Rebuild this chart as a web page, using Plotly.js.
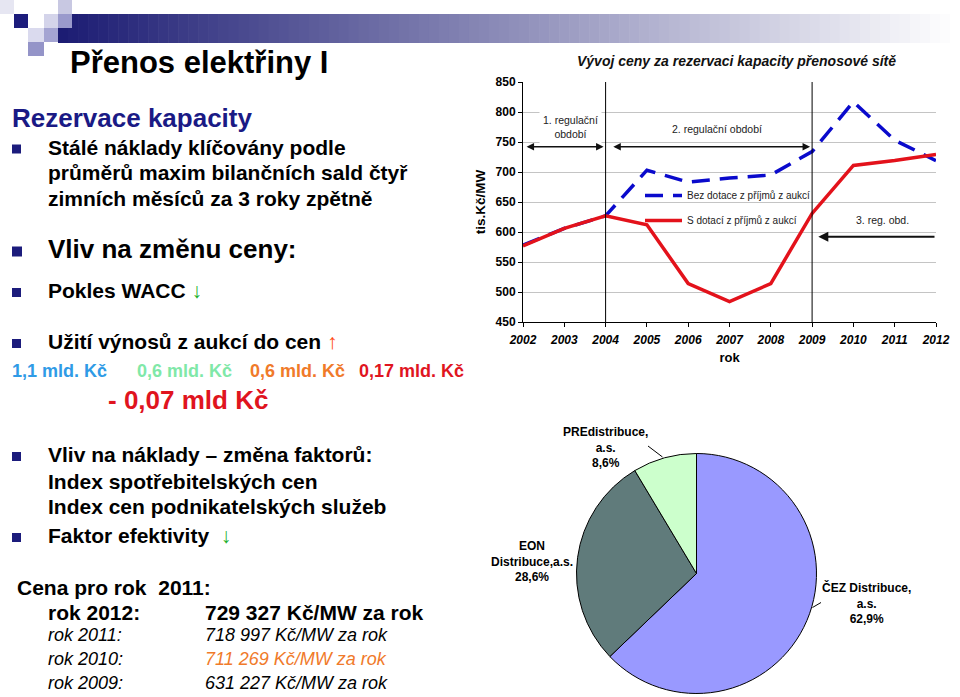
<!DOCTYPE html>
<html>
<head>
<meta charset="utf-8">
<script src="https://cdn.plot.ly/plotly-3.0.1.min.js"></script>
<style>
html,body{margin:0;padding:0;background:#fff;}
#chart{width:960px;height:697px;}
</style>
</head>
<body>
<div id="chart"></div>
<script>
// ---------- DATA ----------
const years = [2002, 2003, 2004, 2005, 2006, 2007, 2008, 2009, 2010, 2011, 2012];
const bezDotace = [578, 606, 627, 703, 683, 690, 695, 734, 817, 753, 719];
const sDotaci = [577, 606, 627, 612, 514, 484, 514, 631, 711, 719, 729];
const seriesNames = ['Bez dotace z příjmů z aukcí', 'S dotací z příjmů z aukcí'];
const yTicks = [450, 500, 550, 600, 650, 700, 750, 800, 850];

const pieNames = ['ČEZ Distribuce,<br>a.s.', 'EON<br>Distribuce,a.s.', 'PREdistribuce,<br>a.s.'];
const pieShares = [62.9, 28.6, 8.6];

// ---------- helpers ----------
const W = 960, H = 697;
const px = x => x / W;
const py = y => 1 - y / H;
const FONT = 'Liberation Sans, Arial, sans-serif';

const shapes = [];
const annotations = [];

function rectPx(x0, y0, x1, y1, color, layer) {
  shapes.push({type: 'rect', xref: 'paper', yref: 'paper', x0: px(x0), x1: px(x1), y0: py(y1), y1: py(y0),
    fillcolor: color, line: {width: 0}, layer: layer || 'below'});
}
function txt(x, y, html, size, color, anchor) {
  annotations.push({xref: 'paper', yref: 'paper', x: px(x), y: py(y), text: html, showarrow: false,
    xanchor: anchor || 'left', yanchor: 'middle', align: anchor === 'center' ? 'center' : 'left',
    font: {family: FONT, size: size, color: color || '#000'}});
}

// ---------- header band (gradient) ----------
const bandX0 = 58, bandX1 = 960, steps = 90;
const c0 = [28, 28, 115], c1 = [255, 255, 255];
for (let i = 0; i < steps; i++) {
  const t = i / (steps - 1);
  const c = c0.map((v, k) => Math.round(v + (c1[k] - v) * t));
  const xa = bandX0 + (bandX1 - bandX0) * i / steps;
  const xb = bandX0 + (bandX1 - bandX0) * (i + 1) / steps + 0.6;
  rectPx(xa, 14, xb, 43, `rgb(${c[0]},${c[1]},${c[2]})`);
}
// decorative squares
rectPx(0, 0, 14, 14, '#e6e6f2');
rectPx(14, 14, 28, 28, '#1c1c7c');
rectPx(58, 0, 72, 14, '#c8c8e2');
rectPx(44, 14, 58, 28, '#d4d4ea');
rectPx(58, 14, 72, 28, '#9a9acc');
rectPx(28, 28, 44, 42, '#dadaee');
rectPx(44, 28, 58, 42, '#a4a4d2');
rectPx(28, 42, 44, 56, '#9494c8');

// ---------- left text ----------
const NAVY = '#1c1c7c';
function bullet(yc, s) {
  s = s || 9;
  rectPx(12, yc - s / 2, 12 + s, yc + s / 2, NAVY, 'above');
}
txt(68, 63, '<b>Přenos elektřiny I</b>', 31);
txt(10, 117.5, '<b>Rezervace kapacity</b>', 26, '#1a1a85');
bullet(149);
txt(46, 147, '<b>Stálé náklady klíčovány podle</b>', 21);
txt(46, 172.5, '<b>průměrů maxim bilančních sald čtyř</b>', 21);
txt(46, 198.5, '<b>zimních měsíců za 3 roky zpětně</b>', 21);
bullet(251.5, 10);
txt(46, 249, '<b>Vliv na změnu ceny:</b>', 26);
bullet(292.5);
txt(46, 290.5, '<b>Pokles WACC </b><span style="color:#22b02a">↓</span>', 21);
bullet(343.5);
txt(46, 341.5, '<b>Užití výnosů z aukcí do cen </b><span style="color:#ff4a10">↑</span>', 21);
txt(10, 371, '<b>1,1 mld. Kč</b>', 18, '#2f9be6');
txt(135, 371, '<b>0,6 mld. Kč</b>', 18, '#80e8a8');
txt(248, 371, '<b>0,6 mld. Kč</b>', 18, '#f07a2a');
txt(356.5, 371, '<b>0,17 mld. Kč</b>', 18, '#e0151f');
txt(106, 400, '<b>- 0,07 mld Kč</b>', 26, '#e0141e');
bullet(456.5);
txt(46, 454.5, '<b>Vliv na náklady – změna faktorů:</b>', 21);
txt(46, 481, '<b>Index spotřebitelských cen</b>', 21);
txt(46, 506.5, '<b>Index cen podnikatelských služeb</b>', 21);
bullet(537.5);
txt(46, 535, '<b>Faktor efektivity&nbsp;&nbsp;</b><span style="color:#22b02a">↓</span>', 21);
txt(15, 587, '<b>Cena pro rok&nbsp;&nbsp;2011:</b>', 21);
txt(46, 612, '<b>rok 2012:</b>', 21);
txt(203, 612, '<b>729 327 Kč/MW za rok</b>', 21);
txt(46, 634.5, '<i>rok 2011:</i>', 18);
txt(203, 634.5, '<i>718 997 Kč/MW za rok</i>', 18);
txt(46, 658.5, '<i>rok 2010:</i>', 18);
txt(203, 658.5, '<i>711 269 Kč/MW za rok</i>', 18, '#f07a2a');
txt(46, 683, '<i>rok 2009:</i>', 18);
txt(203, 683, '<i>631 227 Kč/MW za rok</i>', 18);

// ---------- line chart decorations ----------
txt(736.5, 61, '<b><i>Vývoj ceny za rezervaci kapacity přenosové sítě</i></b>', 14, '#111', 'center');

// white box behind the legend (hides gridlines, stays under the lines)
rectPx(637, 183, 813, 232, '#fff', 'between');

[2004, 2009].forEach(xv => shapes.push({type: 'line', xref: 'x', yref: 'y', x0: xv, x1: xv, y0: 450, y1: 850,
  line: {color: '#000', width: 1}, layer: 'above'}));

function chartText(x, y, html, opts) {
  annotations.push(Object.assign({xref: 'x', yref: 'y', x: x, y: y, text: html, showarrow: false,
    font: {family: FONT, size: 10.5, color: '#222'}}, opts || {}));
}
chartText(2003.15, 775, '1. regulační<br>období', {bgcolor: '#fff', borderpad: 3});
chartText(2006.69, 772.3, '2. regulační období');
chartText(2010.7, 619.5, '3. reg. obd.');

function arrow(xHead, xTail, y, side, w) {
  annotations.push({xref: 'x', yref: 'y', axref: 'x', ayref: 'y', x: xHead, y: y, ax: xTail, ay: y, text: '',
    showarrow: true, arrowhead: 2, arrowsize: 1, arrowwidth: w, arrowcolor: '#111', arrowside: side,
    standoff: 0, startstandoff: 0});
}
arrow(2003.95, 2002.05, 742, 'end+start', 1.5);
arrow(2008.95, 2004.15, 742, 'end+start', 1.5);
arrow(2009.15, 2012, 592, 'end', 2);

// ---------- pie labels ----------
const pieLabelPos = [[866.5, 603], [531.5, 561.5], [605, 447]];
pieNames.forEach((n, i) => {
  const pct = pieShares[i].toFixed(1).replace('.', ',') + '%';
  annotations.push({xref: 'paper', yref: 'paper', x: px(pieLabelPos[i][0]), y: py(pieLabelPos[i][1]),
    text: '<b>' + n + '<br>' + pct + '</b>', showarrow: false, xanchor: 'center', yanchor: 'middle',
    align: 'center', font: {family: FONT, size: 12, color: '#000'}});
});
shapes.push({type: 'line', xref: 'paper', yref: 'paper', x0: px(648), y0: py(446), x1: px(662.5), y1: py(457),
  line: {color: '#000', width: 1}});
shapes.push({type: 'line', xref: 'paper', yref: 'paper', x0: px(812.5), y0: py(607.5), x1: px(821), y1: py(602.5),
  line: {color: '#000', width: 1}});

// ---------- traces ----------
const traces = [
  {type: 'scatter', mode: 'lines', x: years, y: bezDotace, name: seriesNames[0], legendgroup: 'a',
    line: {color: '#0a0acc', width: 3.5, dash: '18px,10px'}, hoverinfo: 'x+y'},
  {type: 'scatter', mode: 'lines', x: years, y: sDotaci, name: seriesNames[1], legendgroup: 'b',
    line: {color: '#e3121b', width: 3.5}, hoverinfo: 'x+y'},
  {type: 'pie', values: pieShares, labels: pieNames.map(s => s.replace('<br>', ' ')), sort: false,
    direction: 'clockwise', rotation: 0, textinfo: 'none', showlegend: false, hoverinfo: 'label+percent',
    marker: {colors: ['#9999ff', '#607b7b', '#ccffcc'], line: {color: '#000', width: 1}},
    domain: {x: [px(576.5), px(816.5)], y: [py(693.5), py(453.5)]}}
];

const layout = {
  width: W, height: H,
  margin: {l: 0, r: 0, t: 0, b: 0},
  paper_bgcolor: '#fff', plot_bgcolor: 'rgba(0,0,0,0)',
  font: {family: FONT, color: '#000'},
  xaxis: {domain: [px(523), px(936)], range: [2002, 2012], tickvals: years, ticks: 'outside', ticklen: 4,
    tickcolor: '#000', showline: true, linecolor: '#000', linewidth: 1, showgrid: false, zeroline: false,
    ticklabelstandoff: 3,
    tickfont: {family: FONT, size: 12, weight: 'bold', style: 'italic', color: '#000'},
    title: {text: 'rok', font: {family: FONT, size: 13, weight: 'bold', color: '#000'}, standoff: 6},
    fixedrange: true},
  yaxis: {domain: [py(322), py(82)], range: [450, 850], tickvals: yTicks, ticks: 'outside', ticklen: 4,
    tickcolor: '#000', showline: true, linecolor: '#000', linewidth: 1, showgrid: true, gridcolor: '#c4c4c4',
    gridwidth: 1, zeroline: false,
    tickfont: {family: FONT, size: 12, weight: 'bold', color: '#000'},
    title: {text: 'tis.Kč/MW', font: {family: FONT, size: 13.5, weight: 'bold', color: '#000'}, standoff: 6},
    fixedrange: true},
  showlegend: true,
  legend: {x: px(640), y: py(181), xanchor: 'left', yanchor: 'top', bgcolor: 'rgba(0,0,0,0)', borderwidth: 0,
    font: {family: FONT, size: 10, color: '#222'}, traceorder: 'grouped', tracegroupgap: 6, itemwidth: 37},
  shapes: shapes,
  annotations: annotations
};

Plotly.newPlot('chart', traces, layout, {displayModeBar: false, staticPlot: false});
</script>
</body>
</html>
